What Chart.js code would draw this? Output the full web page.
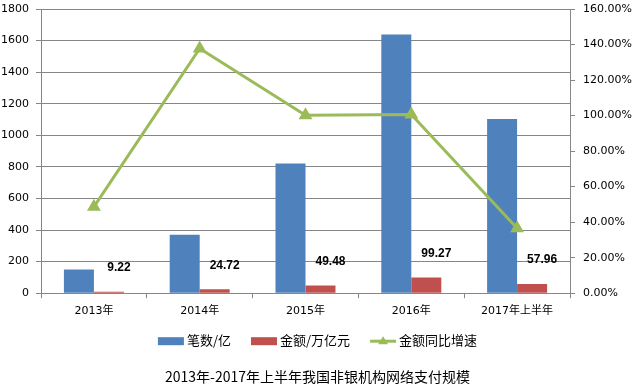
<!DOCTYPE html>
<html>
<head>
<meta charset="utf-8">
<script src="https://cdn.jsdelivr.net/npm/chart.js@4.4.1/dist/chart.umd.min.js"></script>
<style>
html, body { margin: 0; padding: 0; background: #fff; }
</style>
</head>
<body>
<canvas id="myChart" width="635" height="385"></canvas>
<script>
// datos
const years = ['2013年', '2014年', '2015年', '2016年', '2017年上半年'];
const bishu = [150, 370, 821, 1639, 1104];          // 笔数/亿
const jine = [9.22, 24.72, 49.48, 99.27, 57.96];     // 金额/万亿元
const zengsu = [48.6, 137.8, 100.2, 100.6, 36.6];    // 金额同比增速 (%)
const seriesNames = ['笔数/亿', '金额/万亿元', '金额同比增速'];
const leftTicks = [0, 1800, 200];   // min, max, step
const rightTicks = [0, 160, 20];

const colores = ['#4F81BD', '#C0504D', '#9BBB59'];
const gris = '#868686';
const fam = '"DejaVu Sans", "Noto Sans CJK SC", sans-serif';
const cjk = '"Noto Sans CJK SC", sans-serif';

// leyenda dibujada a mano (barra, barra, linea con triangulo)
const leyenda = {
    id: 'leyenda',
    afterDraw(chart) {
        const c = chart.ctx;
        const y = chart.chartArea.bottom + 47;
        c.save();
        c.font = '13px ' + cjk;
        c.textBaseline = 'middle';
        const box = 26, gap = 3, sep = 20;
        const widths = seriesNames.map(n => box + gap + c.measureText(n).width);
        const total = widths.reduce((a, b) => a + b, 0) + sep * (widths.length - 1);
        let x = chart.width / 2 - total / 2;
        seriesNames.forEach((n, i) => {
            if (i < 2) {
                c.fillStyle = colores[i];
                c.fillRect(x, y - 3, box, 8);
            } else {
                c.strokeStyle = colores[i];
                c.lineWidth = 3;
                c.beginPath();
                c.moveTo(x, y + 1);
                c.lineTo(x + box, y + 1);
                c.stroke();
                c.fillStyle = colores[i];
                c.beginPath();
                c.moveTo(x + box / 2, y - 4);
                c.lineTo(x + box / 2 + 5, y + 4);
                c.lineTo(x + box / 2 - 5, y + 4);
                c.closePath();
                c.fill();
            }
            c.fillStyle = '#000';
            c.textAlign = 'left';
            c.fillText(n, x + box + gap, y);
            x += widths[i] + sep;
        });
        c.restore();
    }
};

// etiquetas de valor de los montos
const etiquetas = {
    id: 'etiquetas',
    afterDatasetsDraw(chart) {
        const c = chart.ctx;
        const meta = chart.getDatasetMeta(1);
        c.save();
        c.font = 'bold 12px "Liberation Sans", sans-serif';
        c.fillStyle = '#000';
        c.textAlign = 'center';
        c.textBaseline = 'middle';
        meta.data.forEach((bar, i) => {
            c.fillText(jine[i].toFixed(2), bar.x + 10, bar.y - 24);
        });
        c.restore();
    }
};

// quitar el relleno automatico de las escalas y fijar su tamano
const fijar = (w, h) => s => {
    if (w) s.width = w;
    if (h) s.height = h;
    s.paddingTop = 0;
    s.paddingBottom = 0;
    s.paddingLeft = 0;
    s.paddingRight = 0;
};

const ctx = document.getElementById('myChart');
const myChart = new Chart(ctx, {
    type: 'bar',
    data: {
        labels: years,
        datasets: [{
            label: seriesNames[0],
            data: bishu,
            backgroundColor: colores[0],
            yAxisID: 'y',
            order: 2,
            barPercentage: 1,
            categoryPercentage: 0.567
        }, {
            label: seriesNames[1],
            data: jine,
            backgroundColor: colores[1],
            yAxisID: 'y',
            order: 2,
            barPercentage: 1,
            categoryPercentage: 0.567
        }, {
            type: 'line',
            label: seriesNames[2],
            data: zengsu,
            borderColor: colores[2],
            backgroundColor: colores[2],
            borderWidth: 3,
            pointStyle: 'triangle',
            pointRadius: 5,
            pointBackgroundColor: colores[2],
            pointBorderColor: colores[2],
            tension: 0,
            yAxisID: 'y1',
            order: 1
        }]
    },
    options: {
        responsive: false,
        animation: false,
        devicePixelRatio: 1,
        layout: { padding: { top: 9, left: 0, right: 0, bottom: 0 } },
        plugins: {
            legend: { display: false },
            tooltip: { enabled: false },
            title: {
                display: true,
                position: 'bottom',
                text: '2013年-2017年上半年我国非银机构网络支付规模',
                color: '#000',
                font: { family: cjk, size: 14, weight: 'normal' },
                padding: { top: 50, bottom: 0 }
            }
        },
        scales: {
            x: {
                grid: { offset: true, drawOnChartArea: false, tickLength: 5, color: gris },
                border: { color: gris },
                ticks: { color: '#000', font: { family: fam, size: 11 }, padding: 6, maxRotation: 0, autoSkip: false },
                afterFit: fijar(0, 25)
            },
            y: {
                position: 'left',
                min: leftTicks[0],
                max: leftTicks[1],
                grid: { color: gris, tickLength: 5 },
                border: { color: gris },
                ticks: {
                    stepSize: leftTicks[2], color: '#000', font: { family: fam, size: 11 }, padding: 7,
                    callback: v => String(v)
                },
                afterFit: fijar(41, 0)
            },
            y1: {
                position: 'right',
                min: rightTicks[0],
                max: rightTicks[1],
                grid: { drawOnChartArea: false, color: gris, tickLength: 5 },
                border: { color: gris },
                ticks: {
                    stepSize: rightTicks[2], color: '#000', font: { family: fam, size: 11 }, padding: 8,
                    callback: v => v.toFixed(2) + '%'
                },
                afterFit: fijar(65, 0)
            }
        }
    },
    plugins: [leyenda, etiquetas]
});
</script>
</body>
</html>
